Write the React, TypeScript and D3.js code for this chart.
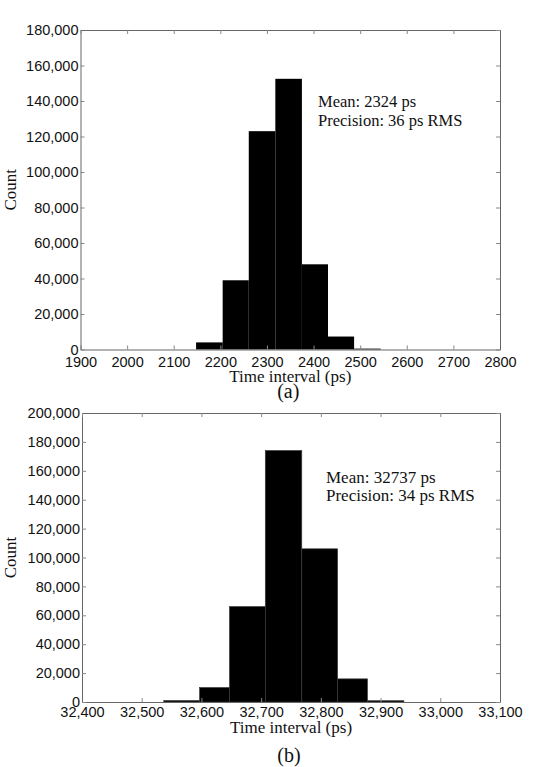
import React, { useRef, useEffect } from 'react';
import * as d3 from 'd3';

// panel (a)
const binEdgesA = [2148, 2205, 2261, 2318, 2375, 2431, 2487, 2544];
const countsA = [4000, 39000, 123000, 152500, 48000, 7300, 500];
const xTicksA = [1900, 2000, 2100, 2200, 2300, 2400, 2500, 2600, 2700, 2800];
const yTicksA = [0, 20000, 40000, 60000, 80000, 100000, 120000, 140000, 160000, 180000];
const statsA = ['Mean: 2324 ps', 'Precision: 36 ps RMS'];

// panel (b)
const binEdgesB = [32537, 32597, 32647, 32707, 32768, 32828, 32878, 32939];
const countsB = [1000, 10000, 66000, 174000, 106000, 16000, 900];
const xTicksB = [32400, 32500, 32600, 32700, 32800, 32900, 33000, 33100];
const yTicksB = [0, 20000, 40000, 60000, 80000, 100000, 120000, 140000, 160000, 180000, 200000];
const statsB = ['Mean: 32737 ps', 'Precision: 34 ps RMS'];

const SANS = '"Liberation Sans", Arial, sans-serif';
const SERIF = '"Liberation Serif", "Times New Roman", serif';

type Panel = {
  edges: number[];
  counts: number[];
  xTicks: number[];
  yTicks: number[];
  xFormat: (n: number) => string;
  stats: string[];
  caption: string;
  left: number;
  top: number;
  right: number;
  bottom: number;
  statsX: number;
  statsY: number;
  statsGap: number;
  statsSize: number;
  xPad: number;
  titleY: number;
  captionY: number;
  barStroke: string;
};

const panels: Panel[] = [
  {
    edges: binEdgesA,
    counts: countsA,
    xTicks: xTicksA,
    yTicks: yTicksA,
    xFormat: d3.format('d'),
    stats: statsA,
    caption: '(a)',
    left: 80.5,
    top: 30,
    right: 500,
    bottom: 349.5,
    statsX: 318,
    statsY: 107,
    statsGap: 18.7,
    statsSize: 16.5,
    xPad: 7,
    titleY: 381.5,
    captionY: 398,
    barStroke: 'none',
  },
  {
    edges: binEdgesB,
    counts: countsB,
    xTicks: xTicksB,
    yTicks: yTicksB,
    xFormat: d3.format(','),
    stats: statsB,
    caption: '(b)',
    left: 82,
    top: 413,
    right: 500,
    bottom: 702,
    statsX: 326,
    statsY: 483,
    statsGap: 17.5,
    statsSize: 17,
    xPad: 5,
    titleY: 733,
    captionY: 762,
    barStroke: '#3a3a3a',
  },
];

const drawPanel = (svg: d3.Selection<SVGSVGElement, unknown, null, undefined>, p: Panel): void => {
  const x = d3.scaleLinear().domain([p.xTicks[0], p.xTicks[p.xTicks.length - 1]]).range([p.left, p.right]);
  const y = d3.scaleLinear().domain([0, p.yTicks[p.yTicks.length - 1]]).range([p.bottom, p.top]);
  const g = svg.append('g');

  // bars
  g.selectAll('rect.bar')
    .data(p.counts)
    .enter()
    .append('rect')
    .attr('class', 'bar')
    .attr('x', (_d, i) => x(p.edges[i]))
    .attr('width', (_d, i) => x(p.edges[i + 1]) - x(p.edges[i]))
    .attr('y', (d) => y(d))
    .attr('height', (d) => y(0) - y(d))
    .attr('fill', '#000')
    .attr('stroke', p.barStroke)
    .attr('stroke-width', 0.7);

  const style = (sel: d3.Selection<SVGGElement, unknown, null, undefined>) => {
    sel.select('.domain').attr('stroke', '#666');
    sel.selectAll('.tick line').attr('stroke', '#888');
    sel.selectAll('text').attr('font-family', SANS).attr('font-size', 14.5).attr('fill', '#111');
  };

  // bottom axis
  g.append('g')
    .attr('transform', `translate(0,${p.bottom})`)
    .call(d3.axisBottom(x).tickValues(p.xTicks).tickSizeInner(-4).tickSizeOuter(0).tickPadding(p.xPad).tickFormat((d) => p.xFormat(d as number)))
    .call(style);

  // left axis
  g.append('g')
    .attr('transform', `translate(${p.left},0)`)
    .call(d3.axisLeft(y).tickValues(p.yTicks).tickSizeInner(-4).tickSizeOuter(0).tickPadding(2).tickFormat((d) => d3.format(',')(d as number)))
    .call(style);

  // top and right frame with inward ticks
  g.append('g')
    .attr('transform', `translate(0,${p.top})`)
    .call(d3.axisTop(x).tickValues(p.xTicks).tickSizeInner(-4).tickSizeOuter(0).tickFormat(() => ''))
    .call(style);
  g.append('g')
    .attr('transform', `translate(${p.right},0)`)
    .call(d3.axisRight(y).tickValues(p.yTicks).tickSizeInner(-4).tickSizeOuter(0).tickFormat(() => ''))
    .call(style);

  // stats text
  p.stats.forEach((s, i) => {
    g.append('text')
      .attr('x', p.statsX)
      .attr('y', p.statsY + i * p.statsGap)
      .attr('font-family', SERIF)
      .attr('font-size', p.statsSize)
      .attr('fill', '#111')
      .text(s);
  });

  const midX = (p.left + p.right) / 2;
  const midY = (p.top + p.bottom) / 2;

  g.append('text')
    .attr('x', midX)
    .attr('y', p.titleY)
    .attr('text-anchor', 'middle')
    .attr('font-family', SERIF)
    .attr('font-size', 17)
    .attr('fill', '#111')
    .text('Time interval (ps)');

  g.append('text')
    .attr('transform', `translate(16,${midY}) rotate(-90)`)
    .attr('text-anchor', 'middle')
    .attr('font-family', SERIF)
    .attr('font-size', 17)
    .attr('fill', '#111')
    .text('Count');

  g.append('text')
    .attr('x', midX - 2)
    .attr('y', p.captionY)
    .attr('text-anchor', 'middle')
    .attr('font-family', SERIF)
    .attr('font-size', 20)
    .attr('fill', '#111')
    .text(p.caption);
};

export default function App() {
  const ref = useRef<SVGSVGElement>(null);

  useEffect(() => {
    const svg = d3.select(ref.current as SVGSVGElement);
    svg.selectAll('*').remove();
    panels.forEach((p) => drawPanel(svg, p));
  }, []);

  return (
    <svg
      ref={ref}
      width={554}
      height={767}
      style={{ position: 'absolute', left: 0, top: 0, background: '#fff' }}
    ></svg>
  );
}
